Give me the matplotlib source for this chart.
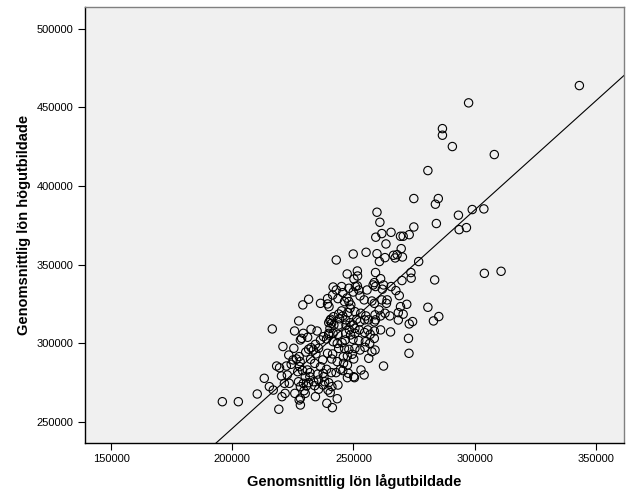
import numpy as np
import matplotlib
matplotlib.use('Agg')
import matplotlib.pyplot as plt

plt.rcParams['font.family'] = ['Liberation Sans', 'DejaVu Sans']

# lön lågutbildade (x) och högutbildade (y), i tusental kronor
lon_lag = [
    343.2, 297.5, 286.7, 286.7, 290.8, 308.1, 280.7, 274.9, 285.0, 283.8,
    299.0, 303.8, 293.3, 293.6, 296.6, 284.2, 259.7, 260.9, 261.7, 259.2,
    265.5, 274.9, 273.0, 269.4, 270.5, 263.4, 269.7, 255.2, 249.9, 259.7,
    263.0, 266.5, 268.0, 267.2, 270.2, 276.9, 260.7, 242.9, 304.0, 310.9,
    283.5, 273.7, 273.8, 270.0, 265.5, 259.1, 261.2, 258.6, 258.1, 259.1,
    262.4, 251.6, 251.7, 247.4, 250.2, 250.8, 251.6, 248.1, 245.1, 241.6,
    242.9, 245.6, 249.9, 252.2, 255.6, 252.7, 254.4, 247.3, 243.6, 239.3,
    241.4, 236.4, 231.5, 229.1, 239.3, 239.9, 246.3, 248.1, 248.9, 248.6,
    258.6, 257.6, 263.9, 263.6, 268.9, 267.5, 272.0, 269.4, 280.7, 285.2,
    283.0, 274.4, 273.0, 272.7, 272.9, 268.5, 268.5, 270.5, 265.0, 263.0,
    265.3, 260.6, 258.9, 259.1, 258.6, 256.2, 254.6, 255.1, 253.0, 250.6,
    247.7, 245.1, 243.9, 241.8, 240.3, 241.0, 240.3, 243.9, 246.9, 248.6,
    249.9, 250.6, 248.3, 246.8, 248.8, 250.6, 252.4, 254.6, 255.9, 256.9,
    258.6, 258.6, 256.7, 254.9, 252.2, 249.8, 246.6, 243.6, 241.6, 239.8,
    237.6, 238.9, 241.6, 243.3, 245.3, 243.9, 246.3, 248.1, 250.6, 252.7,
    254.7, 258.9, 256.3, 253.1, 254.4, 250.1, 250.4, 247.9, 247.5, 245.6,
    244.6, 242.8, 245.8, 247.5, 249.5, 250.1, 243.3, 241.4, 241.0, 239.3,
    237.3, 236.4, 238.9, 240.9, 237.5, 237.8, 235.6, 235.3, 232.0, 233.6,
    234.0, 235.6, 238.1, 239.8, 237.5, 239.5, 240.4, 241.1, 243.6, 239.0,
    241.3, 243.3, 234.3, 230.6, 231.5, 229.3, 228.1, 227.3, 229.6, 230.1,
    228.1, 227.6, 228.1, 225.8, 221.8, 220.5, 219.2, 221.5, 223.5, 222.7,
    220.3, 218.3, 219.5, 222.3, 224.3, 225.1, 226.5, 227.6, 228.0, 227.8,
    227.0, 229.0, 231.0, 232.0, 230.1, 215.3, 216.9, 213.2, 210.3, 195.9,
    202.5, 216.5, 220.9, 225.4, 225.7, 227.4, 228.1, 228.6, 229.3, 231.1,
    232.5, 235.0, 231.5, 233.5, 234.5, 236.4, 239.8, 239.8, 241.9, 244.3,
    246.8, 245.6, 240.6, 234.3, 235.6, 223.3, 232.3, 234.0, 261.2, 262.4,
    261.2, 230.3, 232.5, 245.9, 247.5, 261.7, 261.9, 257.6, 252.7, 251.3,
]
lon_hog = [
    463.9, 452.9, 436.5, 432.3, 425.1, 420.0, 409.8, 392.0, 392.0, 388.4,
    385.0, 385.4, 381.4, 372.2, 373.5, 376.1, 383.3, 376.9, 369.7, 367.4,
    370.5, 373.9, 369.0, 368.0, 368.0, 363.1, 360.1, 357.8, 356.7, 356.9,
    354.4, 355.9, 356.3, 354.2, 354.8, 351.9, 351.9, 352.9, 344.4, 345.7,
    340.2, 344.9, 341.3, 339.8, 336.0, 344.9, 341.0, 338.5, 337.0, 336.0,
    337.0, 345.9, 342.7, 344.0, 340.8, 336.0, 336.4, 334.9, 336.0, 335.7,
    333.8, 332.1, 332.5, 333.8, 333.8, 330.0, 327.5, 328.7, 328.3, 328.3,
    330.6, 325.3, 327.9, 324.3, 324.9, 323.2, 326.4, 326.4, 324.3, 322.2,
    325.3, 326.8, 327.5, 325.3, 330.2, 333.4, 324.7, 323.2, 322.8, 316.9,
    314.1, 313.7, 312.2, 303.0, 293.5, 314.7, 319.4, 318.4, 317.3, 319.0,
    307.1, 321.1, 318.0, 314.8, 313.5, 314.8, 314.8, 317.3, 319.0, 320.0,
    319.4, 320.5, 318.5, 316.8, 314.3, 312.6, 309.4, 311.5, 311.5, 313.0,
    311.5, 309.4, 308.4, 306.2, 305.2, 306.2, 308.4, 306.7, 308.4, 305.6,
    307.7, 303.0, 299.8, 300.9, 301.6, 302.4, 302.0, 305.6, 306.2, 305.2,
    304.1, 302.6, 300.9, 299.8, 300.3, 296.6, 296.6, 296.0, 296.6, 295.6,
    297.3, 295.6, 290.3, 282.9, 279.7, 278.6, 278.0, 280.8, 278.0, 282.5,
    283.3, 281.2, 291.3, 291.8, 292.9, 289.9, 288.2, 293.1, 289.9, 293.5,
    289.3, 285.0, 283.3, 281.2, 280.8, 278.6, 276.5, 280.3, 278.6, 275.4,
    272.9, 270.6, 275.4, 274.8, 273.3, 270.1, 268.5, 272.3, 273.3, 261.7,
    258.9, 264.6, 265.9, 272.7, 274.8, 274.4, 272.3, 275.4, 269.7, 268.0,
    264.9, 263.8, 260.6, 268.0, 268.0, 265.9, 257.9, 274.4, 274.4, 279.7,
    279.1, 285.4, 284.3, 285.4, 286.5, 289.3, 289.9, 291.4, 288.2, 285.0,
    281.8, 282.5, 282.9, 281.2, 278.6, 272.3, 270.1, 277.6, 267.6, 262.7,
    262.7, 309.0, 297.8, 296.7, 307.7, 314.1, 302.0, 303.0, 306.2, 303.7,
    308.8, 307.7, 296.1, 295.6, 293.1, 302.0, 306.2, 313.0, 311.5, 315.5,
    314.8, 317.3, 315.2, 299.2, 296.7, 292.4, 289.7, 287.1, 308.4, 285.4,
    317.3, 294.3, 297.1, 287.1, 286.0, 327.5, 334.3, 294.5, 313.5, 315.2,
]

# regressionslinje
linje_lutning = 1.390
linje_intercept = -32300

x_ticks = [150000, 200000, 250000, 300000, 350000]
y_ticks = [250000, 300000, 350000, 400000, 450000, 500000]

x = np.array(lon_lag) * 1000
y = np.array(lon_hog) * 1000

fig = plt.figure(figsize=(6.29, 5.04), dpi=100)
ax = fig.add_axes([0.1348, 0.121, 0.8572, 0.866])
ax.set_facecolor('#F0F0F0')

ax.scatter(x, y, s=36, facecolors='none', edgecolors='black', linewidths=0.8, zorder=3)
ax.axline((0, linje_intercept), slope=linje_lutning, color='black', linewidth=0.8, zorder=2)

ax.set_xlim(139150, 361600)
ax.set_ylim(236400, 514200)
ax.set_xticks(x_ticks)
ax.set_yticks(y_ticks)
ax.set_xticklabels([str(t) for t in x_ticks])
ax.set_yticklabels([str(t) for t in y_ticks])
ax.tick_params(direction='out', length=5, width=0.8, labelsize=8, pad=3)

for side in ['left', 'bottom']:
    ax.spines[side].set_color('black')
    ax.spines[side].set_linewidth(1.0)
for side in ['top', 'right']:
    ax.spines[side].set_color('#808080')
    ax.spines[side].set_linewidth(1.0)

ax.set_xlabel('Genomsnittlig lön lågutbildade', fontsize=10.5, fontweight='bold', labelpad=7)
ax.set_ylabel('Genomsnittlig lön högutbildade', fontsize=10.5, fontweight='bold', labelpad=4)

fig.savefig('out.png', dpi=100)
